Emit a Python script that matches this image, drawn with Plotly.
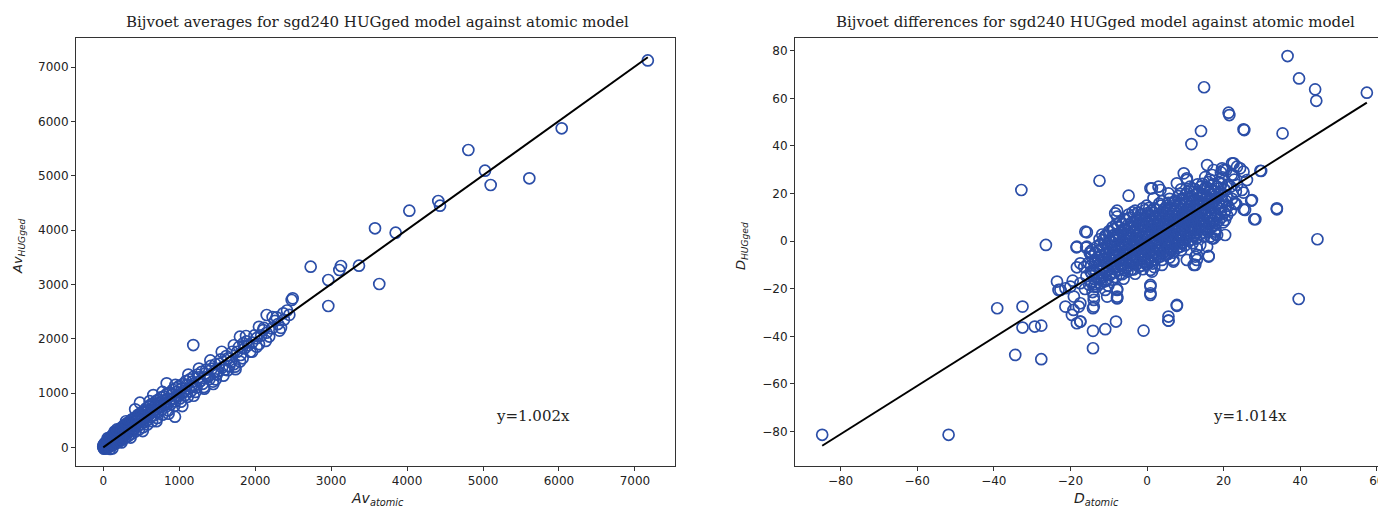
import plotly.graph_objects as go
from plotly.subplots import make_subplots

# Bijvoet averages: (atomic, HUGged)
avg_band = [
    (0, 5), (4, -10), (8, 20), (12, 2), (15, 30), (20, -15), (24, 40), (28, 12), (32, -20), (36, 55),
    (40, 25), (45, 0), (50, 70), (55, 35), (60, 10), (66, 90), (72, 50), (78, 20), (85, 110), (90, 60),
    (96, 130), (104, 75), (110, 40), (118, 150), (125, 95), (132, 60), (140, 170), (148, 120), (155, 80),
    (162, 200), (170, 140), (178, 100), (186, 230), (195, 175), (204, 150), (212, 260), (220, 190),
    (230, 160), (240, 300), (250, 230), (258, 200), (268, 340), (276, 260), (285, 230), (295, 370),
    (305, 300), (315, 250), (326, 400), (336, 330), (345, 290), (358, 430), (370, 360), (380, 320),
    (392, 470), (404, 400), (415, 350), (428, 500), (440, 430), (452, 390), (465, 540), (478, 470),
    (490, 420), (505, 600), (518, 510), (530, 460), (545, 640), (560, 560), (575, 500), (590, 680),
    (605, 600), (620, 560), (636, 720), (652, 650), (668, 590), (685, 760), (700, 700), (718, 640),
    (735, 820), (752, 740), (770, 690), (790, 860), (808, 790), (826, 750), (845, 900), (864, 840),
    (885, 790), (905, 960), (925, 900), (946, 850), (968, 1020), (990, 950), (1010, 900), (1032, 1080),
    (1055, 1010), (1078, 960), (1100, 1150), (1125, 1080), (1150, 1030), (1175, 1210), (1200, 1140),
    (1228, 1100), (1255, 1290), (1282, 1220), (1310, 1170), (1340, 1360), (1370, 1300), (1400, 1260),
    (1430, 1450), (1462, 1390), (1495, 1340), (1530, 1540), (1565, 1470), (1600, 1430), (1640, 1640),
    (1680, 1570), (1720, 1530), (1765, 1760), (1810, 1700), (1860, 1820), (1910, 1880), (1960, 1930),
    (2020, 2010), (2080, 2060), (2150, 2110), (2220, 2190), (2300, 2270), (2380, 2350), (2450, 2440),
]
avg_band_wide = [
    (2, 30), (6, 45), (10, -25), (14, 60), (18, 8), (22, 75), (26, -5), (30, 90), (35, 15), (42, 100),
    (48, -10), (52, 120), (58, 40), (64, 140), (70, 5), (76, 160), (82, 60), (88, 170), (94, 20),
    (100, 190), (108, 100), (115, 210), (122, 45), (128, 230), (136, 110), (144, 250), (150, 60),
    (158, 270), (166, 150), (174, 290), (182, 90), (190, 300), (200, 200), (208, 320), (216, 110),
    (226, 340), (235, 240), (245, 370), (254, 140), (264, 390), (272, 280), (282, 410), (290, 180),
    (300, 430), (310, 330), (320, 450), (330, 210), (342, 470), (352, 380), (364, 500), (375, 250),
    (386, 520), (398, 430), (410, 540), (422, 290), (434, 560), (446, 480), (458, 600), (470, 330),
    (484, 620), (496, 520), (510, 650), (524, 370), (538, 680), (552, 580), (566, 720), (582, 420),
    (598, 750), (612, 630), (628, 790), (644, 480), (660, 810), (676, 700), (692, 850), (710, 540),
    (726, 880), (744, 760), (762, 920), (780, 600), (798, 940), (818, 820), (836, 980), (856, 680),
    (876, 1010), (896, 880), (916, 1060), (936, 760), (958, 1090), (980, 960), (1000, 1130), (1022, 840),
    (1044, 1160), (1066, 1040), (1090, 1220), (1112, 930), (1138, 1250), (1162, 1120), (1188, 1300),
    (1214, 1020), (1242, 1340), (1268, 1210), (1296, 1390), (1325, 1110), (1355, 1430), (1385, 1300),
    (1415, 1500), (1446, 1210), (1478, 1530), (1512, 1400), (1548, 1620), (1582, 1320), (1620, 1680),
    (1660, 1500), (1700, 1760), (1742, 1440), (1788, 1850), (1835, 1640), (1885, 1950), (1935, 1760),
    (1990, 2060), (2050, 1900), (2115, 2200), (2185, 2040), (2260, 2330), (2340, 2200), (2420, 2520),
]
avg_band_outer = [
    (60, 170), (90, -30), (120, -20), (150, 290), (180, 330), (240, 90), (300, 480), (360, 180),
    (420, 700), (520, 300), (610, 850), (700, 480), (780, 1020), (860, 620), (950, 1150), (1040, 760),
    (1120, 1340), (1190, 950), (1260, 1450), (1330, 1080), (1410, 1600), (1480, 1250), (1560, 1760),
    (1640, 1420), (1720, 1880), (1800, 1580), (1880, 2050), (1960, 1760), (2050, 2220), (2140, 1960),
    (2230, 2400), (2320, 2150),
]
avg_outliers = [
    (7170, 7125), (6036, 5876), (4807, 5476), (5026, 5095), (5101, 4831), (5610, 4955),
    (4411, 4537), (4434, 4450), (4030, 4358), (3578, 4034), (3850, 3953), (2731, 3327),
    (3130, 3340), (3108, 3266), (3367, 3345), (2963, 3082), (3634, 3008), (2494, 2744),
    (2963, 2603), (2481, 2713), (2370, 2468), (2283, 2395), (2152, 2437), (1185, 1884),
    (944, 564), (1449, 1166), (1734, 1485), (1800, 2037), (1844, 1915), (2020, 1853),
    (2107, 2160), (483, 822), (835, 1179), (659, 963),
]

# Bijvoet differences: (atomic, HUGged)
diff_core = [
    (-16.2, -20.1), (-15.8, -14.7), (-16.4, -10.9),
    (-15.1, -18.3), (-14.7, -12.8), (-15.3, -9.2), (-14.9, -5.1),
    (-14.2, -21.4), (-13.8, -15.9), (-14.1, -12.3), (-13.6, -7.8), (-14.3, -3.7),
    (-13.1, -19.2), (-12.7, -15.3), (-13.2, -10.6), (-12.8, -6.9), (-13.0, -2.2),
    (-12.1, -17.8), (-11.8, -14.2), (-12.3, -9.7), (-11.9, -6.1), (-12.2, -1.3), (-11.7, 2.8),
    (-11.0, -16.9), (-10.8, -13.1), (-11.2, -8.8), (-10.7, -5.3), (-11.1, -0.9), (-10.9, 2.3),
    (-10.1, -18.7), (-9.8, -14.3), (-10.2, -10.8), (-9.9, -7.2), (-10.3, -3.1), (-9.7, 0.2), (-10.0, 4.1),
    (-9.1, -16.2), (-8.8, -11.7), (-9.2, -8.3), (-8.9, -4.8), (-9.3, -1.9), (-8.7, 2.2), (-9.0, 5.8),
    (-8.1, -15.1), (-7.8, -10.9), (-8.2, -7.2), (-7.9, -3.8), (-8.3, 0.3), (-7.7, 3.1), (-8.0, 7.2),
    (-7.1, -13.8), (-6.8, -10.2), (-7.2, -5.8), (-6.9, -2.7), (-7.3, 1.2), (-6.7, 4.3), (-7.0, 8.1),
    (-6.1, -15.8), (-5.8, -12.1), (-6.2, -7.9), (-5.9, -5.2), (-6.3, -1.8), (-5.7, 2.1), (-6.0, 5.2), (-5.8, 9.3),
    (-5.1, -12.8), (-4.8, -9.1), (-5.2, -5.7), (-4.9, -3.2), (-5.3, 0.1), (-4.7, 3.3), (-5.0, 6.8), (-4.8, 11.2),
    (-4.1, -11.9), (-3.8, -8.2), (-4.2, -4.8), (-3.9, -2.1), (-4.3, 1.2), (-3.7, 4.1), (-4.0, 7.9), (-3.8, 12.1),
    (-3.1, -13.7), (-2.8, -9.8), (-3.2, -6.9), (-2.9, -3.8), (-3.3, -0.8), (-2.7, 2.1), (-3.0, 5.2), (-2.8, 8.9), (-3.1, 12.8),
    (-2.1, -10.8), (-1.8, -7.9), (-2.2, -4.8), (-1.9, -2.1), (-2.3, 1.2), (-1.7, 4.1), (-2.0, 7.1), (-1.8, 10.9),
    (-1.1, -11.8), (-0.8, -8.9), (-1.2, -5.8), (-0.9, -2.9), (-1.3, 0.2), (-0.7, 3.1), (-1.0, 6.2), (-0.8, 9.1), (-1.1, 13.8),
    (-0.1, -9.8), (0.2, -6.9), (-0.2, -3.8), (0.1, -1.1), (-0.3, 2.2), (0.3, 4.9), (0.0, 8.1), (0.2, 11.8), (-0.1, 14.9),
    (0.9, -8.8), (1.2, -5.9), (0.8, -2.8), (1.1, 0.2), (0.7, 3.1), (1.3, 6.2), (1.0, 9.1), (1.2, 12.8),
    (1.9, -10.9), (2.2, -7.8), (1.8, -4.9), (2.1, -1.8), (1.7, 1.2), (2.3, 4.1), (2.0, 6.9), (2.2, 10.2), (1.9, 13.8),
    (2.9, -6.8), (3.2, -3.9), (2.8, -0.8), (3.1, 2.1), (2.7, 5.2), (3.3, 7.9), (3.0, 11.1), (3.2, 15.8),
    (3.9, -7.9), (4.2, -4.8), (3.8, -1.9), (4.1, 1.2), (3.7, 4.1), (4.3, 6.8), (4.0, 10.1), (4.2, 12.9), (3.9, 16.8),
    (4.9, -5.8), (5.2, -2.9), (4.8, 0.2), (5.1, 3.1), (4.7, 6.2), (5.3, 8.9), (5.0, 11.8), (5.2, 14.9),
    (5.9, -6.9), (6.2, -3.8), (5.8, -0.8), (6.1, 2.2), (5.7, 4.9), (6.3, 8.1), (6.0, 10.8), (6.2, 13.9), (5.9, 17.8),
    (6.9, -4.8), (7.2, -1.9), (6.8, 1.2), (7.1, 4.1), (6.7, 6.8), (7.3, 10.2), (7.0, 12.9), (7.2, 16.8),
    (7.9, -2.9), (8.2, 0.2), (7.8, 3.1), (8.1, 5.9), (7.7, 8.8), (8.3, 12.1), (8.0, 14.8), (8.2, 18.9),
    (8.9, -3.8), (9.2, -0.9), (8.8, 2.1), (9.1, 4.9), (8.7, 8.2), (9.3, 10.9), (9.0, 13.8), (9.2, 17.9), (8.9, 21.8),
    (9.9, -1.8), (10.2, 1.1), (9.8, 3.9), (10.1, 7.2), (9.7, 9.8), (10.3, 12.9), (10.0, 15.9), (10.2, 19.8),
    (10.9, 0.2), (11.2, 2.9), (10.8, 6.1), (11.1, 8.8), (10.7, 12.1), (11.3, 14.9), (11.0, 17.8), (11.2, 22.9),
    (11.9, -0.9), (12.2, 2.1), (11.8, 4.9), (12.1, 8.1), (11.7, 10.8), (12.3, 13.9), (12.0, 16.9), (12.2, 20.8),
    (12.9, 1.1), (13.2, 3.8), (12.8, 7.2), (13.1, 9.9), (12.7, 12.8), (13.3, 16.1), (13.0, 19.8), (13.2, 23.9),
    (13.9, 2.9), (14.2, 6.1), (13.8, 8.8), (14.1, 11.9), (13.7, 15.2), (14.3, 18.9), (14.0, 22.8),
    (14.9, 1.9), (15.2, 5.1), (14.8, 7.9), (15.1, 11.2), (14.7, 13.8), (15.3, 17.9), (15.0, 21.8), (15.2, 26.9),
    (15.9, 3.9), (16.2, 7.1), (15.8, 9.8), (16.1, 12.9), (15.7, 16.8), (16.3, 20.9), (16.0, 24.8),
    (16.9, 5.9), (17.2, 8.8), (16.8, 12.1), (17.1, 15.9), (16.7, 19.8), (17.3, 23.9), (17.0, 27.8),
    (17.9, 4.9), (18.2, 7.8), (17.8, 11.1), (18.1, 14.9), (17.7, 18.8), (18.3, 22.9),
    (18.9, 8.9), (19.2, 11.8), (18.8, 15.9), (19.1, 19.8), (18.7, 24.9), (19.3, 28.9),
    (19.9, 7.9), (20.2, 11.9), (19.8, 16.8), (20.1, 21.9), (19.7, 26.8),
    (20.9, 10.9), (21.2, 14.8), (20.8, 18.9), (21.1, 23.8), (20.7, 29.9),
    (21.9, 12.9), (22.2, 17.8), (21.8, 22.9), (22.1, 27.8),
    (22.9, 15.8), (23.2, 20.9), (22.8, 25.9),
]
diff_core_fill = [
    (-14.5, -17.5), (-14.4, -13.8), (-14.6, -10.2), (-14.5, -6.4),
    (-13.5, -18.0), (-13.4, -13.2), (-13.6, -9.1), (-13.5, -4.9),
    (-12.5, -16.1), (-12.4, -12.0), (-12.6, -8.2), (-12.5, -3.9), (-12.4, 0.8),
    (-11.5, -15.2), (-11.4, -11.3), (-11.6, -7.4), (-11.5, -3.2), (-11.4, 0.6),
    (-10.5, -16.3), (-10.4, -12.4), (-10.6, -9.0), (-10.5, -5.1), (-10.4, -1.4), (-10.6, 2.2),
    (-9.5, -14.0), (-9.4, -10.1), (-9.6, -6.6), (-9.5, -3.4), (-9.4, 0.1), (-9.6, 3.9),
    (-8.5, -13.1), (-8.4, -9.3), (-8.6, -5.7), (-8.5, -2.2), (-8.4, 1.6), (-8.6, 5.1),
    (-7.5, -12.0), (-7.4, -8.1), (-7.6, -4.4), (-7.5, -0.9), (-7.4, 2.6), (-7.6, 6.1),
    (-6.5, -13.9), (-6.4, -10.0), (-6.6, -6.6), (-6.5, -3.6), (-6.4, 0.1), (-6.6, 3.4), (-6.5, 7.2),
    (-5.5, -11.1), (-5.4, -7.4), (-5.6, -4.5), (-5.5, -1.5), (-5.4, 1.7), (-5.6, 5.0), (-5.5, 8.9),
    (-4.5, -10.2), (-4.4, -6.6), (-4.6, -3.6), (-4.5, -0.4), (-4.4, 2.7), (-4.6, 6.1), (-4.5, 9.9),
    (-3.5, -11.9), (-3.4, -8.4), (-3.6, -5.6), (-3.5, -2.6), (-3.4, 0.6), (-3.6, 3.6), (-3.5, 7.0), (-3.4, 10.9),
    (-2.5, -9.4), (-2.4, -6.4), (-2.6, -3.4), (-2.5, -0.4), (-2.4, 2.6), (-2.6, 5.6), (-2.5, 9.0), (-2.4, 12.0),
    (-1.5, -10.3), (-1.4, -7.4), (-1.6, -4.4), (-1.5, -1.4), (-1.4, 1.6), (-1.6, 4.6), (-1.5, 7.6), (-1.4, 11.4),
    (-0.5, -8.4), (-0.4, -5.4), (-0.6, -2.4), (-0.5, 0.6), (-0.4, 3.6), (-0.6, 6.6), (-0.5, 9.9), (-0.4, 13.1),
    (0.5, -7.9), (0.6, -4.9), (0.4, -1.9), (0.5, 1.6), (0.6, 4.6), (0.4, 7.6), (0.5, 10.9), (0.6, 14.0),
    (1.5, -9.4), (1.6, -6.4), (1.4, -3.4), (1.5, -0.4), (1.6, 2.6), (1.4, 5.4), (1.5, 8.4), (1.6, 11.9),
    (2.5, -5.4), (2.6, -2.4), (2.4, 0.6), (2.5, 3.6), (2.6, 6.6), (2.4, 9.6), (2.5, 13.1),
    (3.5, -6.4), (3.6, -3.4), (3.4, -0.4), (3.5, 2.6), (3.6, 5.6), (3.4, 8.6), (3.5, 11.6), (3.6, 14.9),
    (4.5, -4.4), (4.6, -1.4), (4.4, 1.6), (4.5, 4.6), (4.6, 7.6), (4.4, 10.6), (4.5, 13.6),
    (5.5, -5.4), (5.6, -2.4), (5.4, 0.6), (5.5, 3.6), (5.6, 6.6), (5.4, 9.6), (5.5, 12.6), (5.6, 16.1),
    (6.5, -3.4), (6.6, -0.4), (6.4, 2.6), (6.5, 5.6), (6.6, 8.6), (6.4, 11.6), (6.5, 14.6),
    (7.5, -1.4), (7.6, 1.6), (7.4, 4.6), (7.5, 7.6), (7.6, 10.6), (7.4, 13.6), (7.5, 17.1),
    (8.5, -2.4), (8.6, 0.6), (8.4, 3.6), (8.5, 6.6), (8.6, 9.6), (8.4, 12.6), (8.5, 15.9), (8.6, 19.9),
    (9.5, -0.4), (9.6, 2.6), (9.4, 5.6), (9.5, 8.6), (9.6, 11.6), (9.4, 14.6), (9.5, 17.9),
    (10.5, 1.6), (10.6, 4.6), (10.4, 7.6), (10.5, 10.6), (10.6, 13.6), (10.4, 16.6), (10.5, 20.6),
    (11.5, 0.6), (11.6, 3.6), (11.4, 6.6), (11.5, 9.6), (11.6, 12.6), (11.4, 15.6), (11.5, 18.9),
    (12.5, 2.6), (12.6, 5.6), (12.4, 8.6), (12.5, 11.6), (12.6, 14.6), (12.4, 17.6), (12.5, 21.9),
    (13.5, 4.6), (13.6, 7.6), (13.4, 10.6), (13.5, 13.6), (13.6, 16.9), (13.4, 20.9),
    (14.5, 3.6), (14.6, 6.6), (14.4, 9.6), (14.5, 12.6), (14.6, 15.9), (14.4, 19.9), (14.5, 24.1),
    (15.5, 5.6), (15.6, 8.6), (15.4, 11.6), (15.5, 14.9), (15.6, 18.9), (15.4, 22.9),
    (16.5, 7.6), (16.6, 10.6), (16.4, 14.1), (16.5, 17.9), (16.6, 21.9), (16.4, 25.9),
    (17.5, 6.6), (17.6, 9.6), (17.4, 13.1), (17.5, 16.9), (17.6, 20.9),
    (18.5, 10.6), (18.6, 14.1), (18.4, 17.9), (18.5, 22.1),
    (19.5, 10.1), (19.6, 14.6), (19.4, 19.1), (19.5, 24.1),
    (20.5, 12.9), (20.6, 16.9), (20.4, 21.4),
]
diff_outliers = [
    (36.7, 77.8), (39.7, 68.4), (43.9, 63.8), (44.2, 59.0), (57.4, 62.4), (14.9, 64.7),
    (21.3, 54.0), (21.5, 53.0), (25.2, 47.0), (14.1, 46.3), (11.6, 40.8), (35.4, 45.3),
    (-12.4, 25.4), (-4.8, 19.1), (29.8, 29.5), (33.9, 13.4), (44.5, 0.8), (39.6, -24.3),
    (28.0, 9.2), (27.2, 17.0), (25.2, 13.4), (25.2, 20.4), (23.3, 15.6), (20.4, 2.6),
    (17.8, 3.0), (17.0, 1.2), (16.1, -6.2), (12.6, -10.0), (7.8, -27.2), (5.6, -33.4),
    (-0.9, -37.6), (-8.1, -33.8), (-10.9, -37.0), (-14.1, -37.7), (-14.1, -45.0),
    (0.9, -19.1), (0.9, -22.6), (-17.4, -26.1), (-13.9, -27.5), (-17.4, -33.8),
    (-16.1, 4.0), (-8.3, 11.7), (-7.8, 10.3), (-32.8, 21.5), (-26.4, -1.6), (-39.1, -28.2),
    (-32.5, -27.5), (-32.5, -36.3), (-29.3, -35.9), (-27.6, -35.5), (-34.4, -47.8),
    (-27.6, -49.6), (-51.8, -81.4), (-84.8, -81.4), (-23.5, -17.0), (-23.1, -20.5),
    (-21.3, -19.8), (-21.3, -27.5), (-19.6, -31.0), (-19.2, -28.9), (-19.4, -16.6),
    (-18.4, -2.6), (-18.3, -11.0), (-18.3, -34.5), (-15.7, 3.7), (-18.3, -2.3),
    (-15.9, -2.7), (-7.8, 12.8), (-8.7, 2.6), (-6.5, 4.0), (-17.4, -33.8), (-14.1, -28.2),
    (-13.9, -24.7), (-7.8, -24.0), (-7.8, -20.2), (5.6, -33.4), (0.9, -21.9), (1.3, -12.8),
    (6.9, -8.6), (13.0, -5.8), (13.9, -1.6), (16.5, 1.9), (18.3, 2.6), (33.9, 13.8),
    (28.3, 9.2), (25.6, 13.1), (27.4, 17.3), (29.6, 29.6), (25.4, 46.7), (22.6, 32.7),
    (24.3, 30.6), (26.1, 25.7), (24.8, 21.5), (15.7, 32.0), (17.4, 29.9), (9.6, 28.5),
    (10.4, 25.7), (7.8, 24.3), (0.9, 22.2), (3.5, 21.5), (1.7, 18.0), (20.0, 29.9),
    (23.5, 31.3), (25.2, 29.2), (10.4, 26.4), (1.3, 22.2), (3.0, 22.9), (5.6, 20.1),
    (-15.7, -2.3), (-17.4, -9.3), (-17.4, -17.7), (-13.9, -19.1), (-13.9, -23.3),
    (-10.9, -20.5), (-7.8, -20.5), (-7.8, -23.3), (0.9, -12.1), (3.9, -10.0), (6.9, -7.9),
    (12.6, -6.5), (13.0, -3.0), (8.7, -2.3), (-14.8, -4.4), (-22.6, -20.5), (-20.0, -19.1),
    (-19.1, -23.3), (-17.8, -27.5), (-10.4, -23.3), (-7.8, -24.0), (0.9, -18.4),
    (7.8, -26.8), (5.6, -31.7), (19.6, 30.6), (22.2, 32.7), (22.6, 27.8), (23.5, 23.6),
    (23.0, 15.9), (20.4, 8.9), (17.8, 4.0), (17.4, 1.2), (15.7, -2.3), (13.0, -7.9),
    (10.4, -7.9), (12.2, -10.0), (16.1, -6.5),
]

slope_avg = 1.002
slope_diff = 1.014
avg_fit_x = [0, 7170]
diff_fit_x = [-84.8, 57.4]

RING = "#2b4ea8"
SERIF = "DejaVu Serif"
SANS = "DejaVu Sans"
TXT = "#222"

# the page adds an 8px body margin, so the figure is laid out 8px smaller
W, H = 1378, 502


def px(x):
    return (x - 8) / W


def py(y):
    return (510 - y) / H


avg_pts = avg_band + avg_band_wide + avg_band_outer + avg_outliers
diff_pts = diff_core + diff_core_fill + diff_outliers

fig = make_subplots(rows=1, cols=2)

marker = dict(symbol="circle-open", size=11, color=RING, line=dict(width=1.7, color=RING))
fig.add_trace(go.Scatter(x=[p[0] for p in avg_pts], y=[p[1] for p in avg_pts],
                         mode="markers", marker=marker, showlegend=False), row=1, col=1)
fig.add_trace(go.Scatter(x=avg_fit_x, y=[slope_avg * v for v in avg_fit_x], mode="lines",
                         line=dict(color="black", width=2), showlegend=False), row=1, col=1)
fig.add_trace(go.Scatter(x=[p[0] for p in diff_pts], y=[p[1] for p in diff_pts],
                         mode="markers", marker=marker, showlegend=False), row=1, col=2)
fig.add_trace(go.Scatter(x=diff_fit_x, y=[slope_diff * v for v in diff_fit_x], mode="lines",
                         line=dict(color="black", width=2), showlegend=False), row=1, col=2)

axis_style = dict(showgrid=False, zeroline=False, showline=True, linecolor="#333", linewidth=1,
                  ticks="outside", ticklen=4, tickcolor="#333",
                  tickfont=dict(family=SANS, size=12, color=TXT))

ydom = [py(466), py(37.5)]
avg_ticks = [0, 1000, 2000, 3000, 4000, 5000, 6000, 7000]
diff_ticks = [-80, -60, -40, -20, 0, 20, 40, 60, 80]
diff_labels = [str(v).replace("-", "\u2212") for v in diff_ticks]

fig.update_xaxes(axis_style, mirror=True, domain=[px(76), px(675)],
                 range=[-359, 7528], tickvals=avg_ticks, row=1, col=1)
fig.update_yaxes(axis_style, mirror=True, domain=ydom,
                 range=[-344, 7548], tickvals=avg_ticks, row=1, col=1)
fig.update_xaxes(axis_style, mirror=True, domain=[px(795), 1.0],
                 range=[-91.9, 62.4], tickvals=diff_ticks, ticktext=diff_labels, row=1, col=2)
fig.update_yaxes(axis_style, mirror=False, domain=ydom,
                 range=[-94.5, 85.6], tickvals=diff_ticks, ticktext=diff_labels, row=1, col=2)

ann = [
    dict(text="Bijvoet averages for sgd240 HUGged model against atomic model", x=px(377), y=py(22),
         font=dict(family=SERIF, size=15, color=TXT)),
    dict(text="Bijvoet differences for sgd240 HUGged model against atomic model", x=px(1095), y=py(22),
         font=dict(family=SERIF, size=15, color=TXT)),
    dict(text="<i>Av</i><sub><i>atomic</i></sub>", x=px(377), y=py(499),
         font=dict(family=SANS, size=14, color=TXT)),
    dict(text="<i>Av</i><sub><i>HUGged</i></sub>", x=px(18), y=py(246), textangle=-90,
         font=dict(family=SANS, size=13, color=TXT)),
    dict(text="<i>D</i><sub><i>atomic</i></sub>", x=px(1096), y=py(499),
         font=dict(family=SANS, size=14, color=TXT)),
    dict(text="<i>D</i><sub><i>HUGged</i></sub>", x=px(741), y=py(246), textangle=-90,
         font=dict(family=SANS, size=13, color=TXT)),
]
for a in ann:
    fig.add_annotation(xref="paper", yref="paper", showarrow=False, xanchor="center", yanchor="middle", **a)

fig.add_annotation(text="y=1.002x", x=5659, y=577, xref="x", yref="y", showarrow=False,
                   font=dict(family=SERIF, size=15, color=TXT))
fig.add_annotation(text="y=1.014x", x=27, y=-73.4, xref="x2", yref="y2", showarrow=False,
                   font=dict(family=SERIF, size=15, color=TXT))

fig.update_layout(width=W, height=H, margin=dict(l=0, r=0, t=0, b=0),
                  paper_bgcolor="white", plot_bgcolor="white")
fig.write_html("out.html")
